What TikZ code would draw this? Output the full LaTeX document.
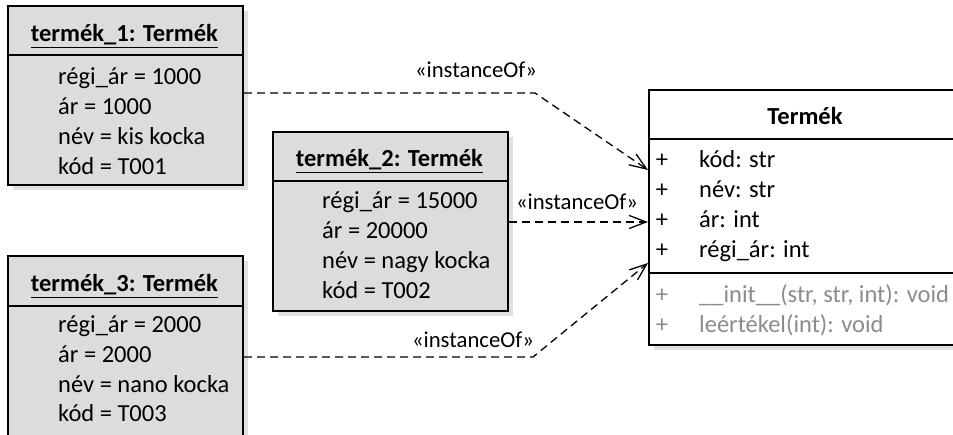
\documentclass[tikz,border=0pt]{standalone}
\usepackage{fontspec}
\setmainfont{Carlito}
\usetikzlibrary{arrows.meta,shadows}
\definecolor{objfill}{HTML}{DCDCDC}
\definecolor{shadowgrey}{HTML}{E0E0E0}
\definecolor{opgrey}{HTML}{8C8C8C}
\begin{document}
\begin{tikzpicture}[x=1bp,y=-1bp,
  txt/.style={font=\fontsize{24.5bp}{29bp}\selectfont, inner sep=0, anchor=base west},
  plus/.style={font=\fontsize{24.5bp}{29bp}\selectfont, inner sep=0, anchor=base},
  ttl/.style={font=\fontsize{24.5bp}{29bp}\selectfont\bfseries, inner sep=0, anchor=base},
  lbl/.style={font=\fontsize{22.7bp}{27bp}\selectfont, inner sep=0},
  boxshade/.style={drop shadow={shadow xshift=5bp, shadow yshift=-5bp, fill=shadowgrey, opacity=1}},
  objbox/.style={draw=black, line width=2bp, fill=objfill, anchor=north west, inner sep=0,
    minimum width=235bp, minimum height=179bp, boxshade},
  clsbox/.style={draw=black, line width=2bp, fill=white, anchor=north west, inner sep=0,
    minimum width=314bp, minimum height=255bp, boxshade},
  sepline/.style={line width=1.3bp},
  inst/.style={dash pattern=on 8bp off 5bp, line width=1.3bp,
    -{Straight Barb[length=17bp,width=13bp,line width=1.3bp]}},
]
\useasboundingbox (0,0) rectangle (953,435);

% object termék_1
\node[objbox] (o1) at (7,5) {};
\draw[sepline] (o1.west |- 0,55) -- (o1.east |- 0,55);
\node[ttl] (o1t) at (124.5,42) {\underline{termék\_1: Termék}};
\node[txt] (o1a) at (58,85) {régi\_ár = 1000};
\node[txt] (o1b) at (58,115) {ár = 1000};
\node[txt] (o1c) at (58,145) {név = kis kocka};
\node[txt] (o1d) at (58,175) {kód = T001};

% object termék_2
\node[objbox] (o2) at (272,131) {};
\draw[sepline] (o2.west |- 0,181) -- (o2.east |- 0,181);
\node[ttl] (o2t) at (389.5,167) {\underline{termék\_2: Termék}};
\node[txt] (o2a) at (322,209) {régi\_ár = 15000};
\node[txt] (o2b) at (322,239) {ár = 20000};
\node[txt] (o2c) at (322,269) {név = nagy kocka};
\node[txt] (o2d) at (322,299) {kód = T002};

% object termék_3 (runs past the lower edge)
\node[objbox, minimum height=190bp] (o3) at (7,255) {};
\draw[sepline] (o3.west |- 0,306) -- (o3.east |- 0,306);
\node[ttl] (o3t) at (124.5,292) {\underline{termék\_3: Termék}};
\node[txt] (o3a) at (58,333) {régi\_ár = 2000};
\node[txt] (o3b) at (58,363) {ár = 2000};
\node[txt] (o3c) at (58,392) {név = nano kocka};
\node[txt] (o3d) at (58,421) {kód = T003};

% class Termék (runs past the right edge)
\node[clsbox] (cls) at (648,89) {};
\draw[sepline] (cls.west |- 0,139) -- (cls.east |- 0,139);
\draw[sepline] (cls.west |- 0,273) -- (cls.east |- 0,273);
\node[ttl] (clst) at (805,125) {Termék};
\node[plus] (p1) at (662,168) {+};
\node[txt] (a1) at (699,168) {kód: str};
\node[plus] (p2) at (662,198) {+};
\node[txt] (a2) at (699,198) {név: str};
\node[plus] (p3) at (662,228) {+};
\node[txt] (a3) at (699,228) {ár: int};
\node[plus] (p4) at (662,258) {+};
\node[txt] (a4) at (699,258) {régi\_ár: int};
\node[plus, text=opgrey] (p5) at (662,303) {+};
\node[txt, text=opgrey] (m1) at (699,303) {\_\_init\_\_(str, str, int): void};
\node[plus, text=opgrey] (p6) at (662,333) {+};
\node[txt, text=opgrey] (m2) at (699,333) {leértékel(int): void};

% instanceOf dependencies
\coordinate (k1) at (535,93);
\coordinate (k3) at (533,357);
\draw[inst] (o1.east |- k1) -- (k1) -- (cls.west |- 0,170);
\draw[inst] (o2.east |- 0,222) -- (cls.west |- 0,222);
\draw[inst] (o3.east |- k3) -- (k3) -- (cls.west |- 0,263);
\node[lbl] (l1) at (476,70) {«instanceOf»};
\node[lbl] (l2) at (577,202) {«instanceOf»};
\node[lbl] (l3) at (473,340) {«instanceOf»};
\end{tikzpicture}
\end{document}
